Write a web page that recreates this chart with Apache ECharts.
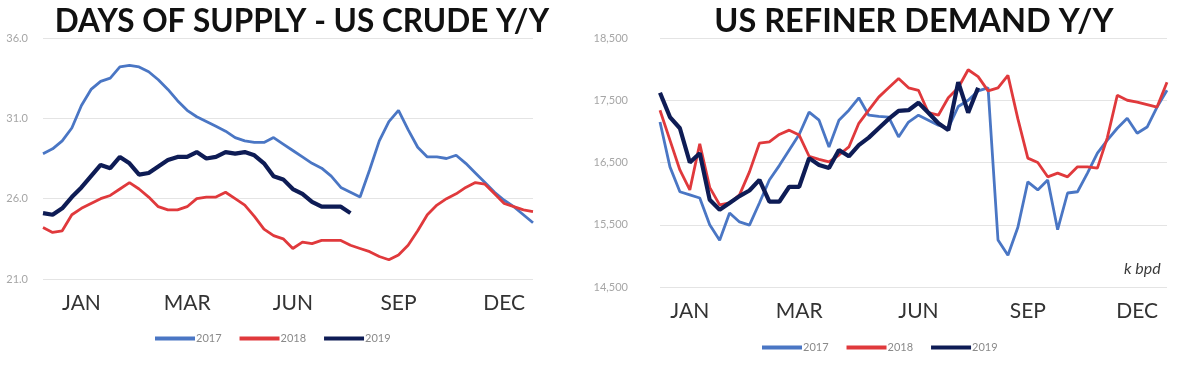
<!DOCTYPE html>
<html>
<head>
<meta charset="utf-8">
<script src="https://cdn.jsdelivr.net/npm/echarts@6/dist/echarts.min.js"></script>
<style>
html,body{margin:0;padding:0;background:#fff;}
#c{width:1200px;height:373px;}
</style>
</head>
<body>
<div id="c"></div>
<script>
// ---- data ----
var weeks = [];
for (var w = 1; w <= 52; w++) weeks.push('W' + w);

var supplyTicks = { 4: 'JAN', 15: 'MAR', 26: 'JUN', 37: 'SEP', 48: 'DEC' };
var demandTicks = { 3: 'JAN', 14: 'MAR', 26: 'JUN', 37: 'SEP', 48: 'DEC' };

var supply2017 = [28.8, 29.1, 29.6, 30.4, 31.8, 32.8, 33.3, 33.5, 34.2, 34.3, 34.2, 33.9, 33.4, 32.8, 32.1, 31.5, 31.1, 30.8, 30.5, 30.2, 29.8, 29.6, 29.5, 29.5, 29.8, 29.4, 29.0, 28.6, 28.2, 27.9, 27.4, 26.7, 26.4, 26.1, 27.8, 29.6, 30.8, 31.5, 30.3, 29.2, 28.6, 28.6, 28.5, 28.7, 28.2, 27.6, 27.0, 26.4, 25.9, 25.5, 25.0, 24.5];
var supply2018 = [24.2, 23.9, 24.0, 25.0, 25.4, 25.7, 26.0, 26.2, 26.6, 27.0, 26.6, 26.1, 25.5, 25.3, 25.3, 25.5, 26.0, 26.1, 26.1, 26.4, 26.0, 25.6, 24.9, 24.1, 23.7, 23.5, 22.9, 23.3, 23.2, 23.4, 23.4, 23.4, 23.1, 22.9, 22.7, 22.4, 22.2, 22.5, 23.1, 24.0, 25.0, 25.6, 26.0, 26.3, 26.7, 27.0, 26.9, 26.3, 25.7, 25.5, 25.3, 25.2];
var supply2019 = [25.1, 25.0, 25.4, 26.1, 26.7, 27.4, 28.1, 27.9, 28.6, 28.2, 27.5, 27.6, 28.0, 28.4, 28.6, 28.6, 28.9, 28.5, 28.6, 28.9, 28.8, 28.9, 28.7, 28.2, 27.4, 27.2, 26.6, 26.3, 25.8, 25.5, 25.5, 25.5, 25.1];

var demand2017 = [17150, 16430, 16030, 15980, 15930, 15500, 15250, 15690, 15545, 15495, 15850, 16220, 16450, 16700, 16950, 17310, 17180, 16750, 17180, 17340, 17540, 17260, 17240, 17230, 16910, 17150, 17260, 17180, 17100, 17050, 17400, 17500, 17650, 17700, 15255, 15010, 15460, 16190, 16060, 16220, 15420, 16010, 16030, 16330, 16650, 16860, 17050, 17210, 16970, 17070, 17390, 17660];
var demand2018 = [17340, 16860, 16380, 16060, 16800, 16100, 15820, 15850, 15980, 16350, 16810, 16830, 16950, 17020, 16940, 16600, 16550, 16510, 16620, 16750, 17130, 17340, 17550, 17700, 17850, 17700, 17660, 17300, 17260, 17540, 17700, 17990, 17880, 17650, 17700, 17900, 17200, 16570, 16500, 16270, 16330, 16270, 16430, 16430, 16410, 16900, 17580, 17500, 17470, 17430, 17390, 17790];
var demand2019 = [17620, 17230, 17050, 16500, 16650, 15900, 15740, 15850, 15960, 16050, 16220, 15870, 15870, 16110, 16110, 16570, 16460, 16410, 16700, 16600, 16780, 16900, 17050, 17200, 17330, 17340, 17460, 17300, 17130, 17020, 17790, 17300, 17700];

var years = ['2017', '2018', '2019'];
var colors = ['#4a76c4', '#e0393c', '#0e1c55'];
var widths = [2.8, 2.8, 4.2];

// ---- chart ----
var chart = echarts.init(document.getElementById('c'), null, { renderer: 'canvas' });

function xAxis(gridIndex, ticks) {
  return {
    type: 'category', gridIndex: gridIndex, data: weeks, boundaryGap: false,
    axisLine: { show: false }, axisTick: { show: false },
    axisLabel: {
      interval: function (i) { return ticks[i] !== undefined; },
      formatter: function (v, i) { return ticks[i] || ''; },
      color: '#333333', fontFamily: 'Lato', fontSize: 21, margin: 14
    },
    splitLine: { show: false }
  };
}

function mkSeries(data, k, xi, yi) {
  return {
    type: 'line', name: years[k], data: data, xAxisIndex: xi, yAxisIndex: yi,
    showSymbol: false, symbol: 'none', silent: true, animation: false,
    lineStyle: { color: colors[k], width: widths[k] }, itemStyle: { color: colors[k] },
    z: 2 + k
  };
}

var legendCommon = {
  icon: 'rect', itemWidth: 40, itemHeight: 4, itemGap: 18,
  textStyle: { color: '#8a8a8a', fontSize: 11, fontFamily: 'Lato', padding: [0, 0, 0, -4] },
  data: years, selectedMode: false
};

var option = {
  backgroundColor: '#ffffff',
  animation: false,
  grid: [
    { left: 43, right: 667, top: 38, bottom: 94 },
    { left: 660, right: 33, top: 38, bottom: 86 }
  ],
  xAxis: [xAxis(0, supplyTicks), xAxis(1, demandTicks)],
  yAxis: [
    {
      type: 'value', gridIndex: 0, min: 21, max: 36, interval: 5,
      axisLine: { show: false }, axisTick: { show: false },
      axisLabel: { formatter: function (v) { return v.toFixed(1); }, color: '#a6a6a6', fontSize: 11, fontFamily: 'Lato', margin: 15 },
      splitLine: { lineStyle: { color: '#e4e4e4', width: 1 } }
    },
    {
      type: 'value', gridIndex: 1, min: 14500, max: 18500, interval: 1000,
      axisLine: { show: false }, axisTick: { show: false },
      axisLabel: { formatter: function (v) { return v.toLocaleString('en-US'); }, color: '#a6a6a6', fontSize: 11, fontFamily: 'Lato', margin: 32 },
      splitLine: { lineStyle: { color: '#e4e4e4', width: 1 } }
    }
  ],
  legend: [
    Object.assign({}, legendCommon, { left: 150, top: 328 }),
    Object.assign({}, legendCommon, { left: 757, top: 337 })
  ],
  title: [
    { text: 'DAYS OF SUPPLY - US CRUDE Y/Y', left: 297, top: 1, textAlign: 'center',
      textStyle: { fontFamily: 'Lato', fontWeight: 'bold', fontSize: 31.5, color: '#111111' } },
    { text: 'US REFINER DEMAND Y/Y', left: 909, top: 0, textAlign: 'center',
      textStyle: { fontFamily: 'Lato', fontWeight: 'bold', fontSize: 32.5, color: '#111111' } }
  ],
  graphic: [
    { type: 'text', left: 1124, top: 261,
      style: { text: 'k bpd', font: 'italic 16px Lato', fill: '#3a3a3a' } }
  ],
  series: [
    mkSeries(supply2017, 0, 0, 0), mkSeries(supply2018, 1, 0, 0), mkSeries(supply2019, 2, 0, 0),
    mkSeries(demand2017, 0, 1, 1), mkSeries(demand2018, 1, 1, 1), mkSeries(demand2019, 2, 1, 1)
  ]
};
chart.setOption(option);
</script>
</body>
</html>
